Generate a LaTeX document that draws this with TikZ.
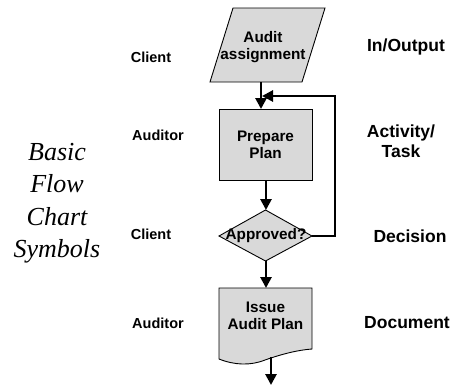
\documentclass[tikz,border=0pt]{standalone}
\usepackage{fontspec}
\usetikzlibrary{arrows.meta}
\newfontfamily\labfont{Liberation Sans}
\newfontfamily\serfont{Liberation Serif}
\definecolor{boxfill}{RGB}{217,217,217}
\tikzset{
  shapebox/.style={draw=black, line width=0.9pt, fill=boxfill, line join=miter},
  boxtext/.style={font=\labfont\bfseries\fontsize{15.3}{17}\selectfont, align=center, inner sep=0pt},
  roletext/.style={font=\labfont\bfseries\fontsize{14.5}{17}\selectfont, inner sep=0pt},
  kindtext/.style={font=\labfont\bfseries\fontsize{17.5}{20.5}\selectfont, align=center, inner sep=0pt},
  titletext/.style={font=\serfont\itshape\fontsize{26}{32.5}\selectfont, align=center, inner sep=0pt},
  flow/.style={line width=2.7pt, -{Triangle[width=11pt,length=11pt]}},
}
\begin{document}
\begin{tikzpicture}[x=1pt,y=-1pt]
\useasboundingbox (0,0) rectangle (458,386);
% in/output parallelogram
\draw[shapebox] (233,8) -- (325,8) -- (302,82) -- (210,82) -- cycle;
\node[boxtext] (audit) at (263,47) {Audit\\assignment};
% activity rectangle
\draw[shapebox] (219,109) rectangle (312,180);
\node[boxtext] (plan) at (265.5,145) {Prepare\\Plan};
% decision diamond
\draw[shapebox] (265.5,210) -- (312,236) -- (265.5,261) -- (219,236) -- cycle;
\node[boxtext] (dec) at (266,236) {Approved?};
% document
\draw[shapebox] (219,288) -- (312,288) -- (312,349)
  .. controls (298,350) and (282,354) .. (265,360)
  .. controls (250,366) and (234,365) .. (219,359) -- cycle;
\node[boxtext] (doc) at (265.5,316) {Issue\\Audit Plan};
% connector coordinates
\coordinate (auditS) at (261,82);
\coordinate (planN) at (261,109);
\coordinate (planS) at (266,180);
\coordinate (decN) at (266,210);
\coordinate (decE) at (312,236);
\coordinate (decS) at (266,261);
\coordinate (docN) at (266,288);
\coordinate (docS) at (271,357);
\coordinate (outEnd) at (271,385);
\coordinate (loopA) at (335,236);
\coordinate (loopB) at (335,96);
\coordinate (loopEnd) at (262,96);
% connectors
\draw[flow] (auditS) -- (planN);
\draw[flow] (planS) -- (decN);
\draw[flow] (decS) -- (docN);
\draw[flow] (docS) -- (outEnd);
\draw[flow] (decE) -- (loopA) -- (loopB) -- (loopEnd);
% role labels
\node[roletext] (r1) at (151,57) {Client};
\node[roletext] (r2) at (158,135) {Auditor};
\node[roletext] (r3) at (151,234) {Client};
\node[roletext] (r4) at (158,323) {Auditor};
% kind labels
\node[kindtext] (k1) at (406,47) {In/Output};
\node[kindtext] (k2) at (401,141) {Activity/\\Task};
\node[kindtext] (k3) at (410,236) {Decision};
\node[kindtext] (k4) at (407,323) {Document};
% title
\node[titletext] (title) at (57,203) {Basic\\Flow\\Chart\\Symbols};
\end{tikzpicture}
\end{document}
